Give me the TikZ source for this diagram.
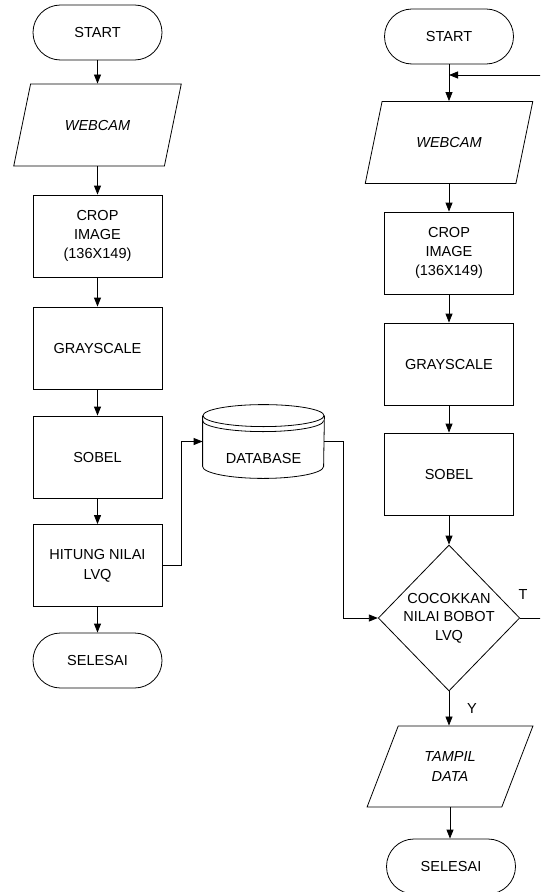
\documentclass[tikz,border=0pt]{standalone}
\usepackage{fontspec}
\setmainfont{Liberation Sans}
\usetikzlibrary{shapes.geometric}
\usetikzlibrary{arrows.meta}

\begin{document}
\begin{tikzpicture}[x=0.75pt,y=-0.75pt,
		font=\fontsize{10.9}{14}\selectfont,
		line width=0.6pt,
		term/.style={draw, rectangle, rounded corners=20.6pt, minimum width=96.75pt, minimum height=41.25pt},
		proc/.style={draw, rectangle, minimum width=96.75pt, minimum height=61.5pt, align=center},
		io/.style={draw, trapezium, trapezium left angle=64, trapezium right angle=116, trapezium stretches, minimum width=126pt, minimum height=61.5pt, align=center, font=\fontsize{10.9}{15}\selectfont\itshape},
		decide/.style={draw, diamond, aspect=1, minimum width=105pt, minimum height=109.5pt, align=center, inner sep=0pt},
		arr/.style={-{Triangle[length=6.75pt,width=5.25pt]}}]
		\useasboundingbox (0,0) rectangle (540,892);
		\clip (0,0) rectangle (540,892);
		
		% Left flow - training
		\node[term] (startL) at (97.5,32.5) {START};
		\node[io] (webL) at (97.5,125) {WEBCAM};
		\node[proc] (cropL) at (97.5,236) {CROP\\IMAGE\\(136X149)};
		\node[proc] (grayL) at (97.5,348) {GRAYSCALE};
		\node[proc] (sobelL) at (97.5,457) {SOBEL};
		\node[proc, font=\fontsize{10.9}{15}\selectfont] (hitung) at (97.5,565.5) {HITUNG NILAI\\LVQ};
		\node[term] (endL) at (97.5,660.5) {SELESAI};
		\foreach \a/\b in {startL/webL,webL/cropL,cropL/grayL,grayL/sobelL,sobelL/hitung,hitung/endL} {
			\draw[arr] (\a |- \a.south) -- (\a |- \b.north);
		}
		
		% Database
		\node[minimum width=90.75pt, minimum height=54.75pt] (db) at (263.5,441.5) {};
		\draw ([yshift=-8.25pt]db.north) ellipse [x radius=45.375pt, y radius=8.25pt];
		\draw ([yshift=-12pt]db.north west) arc [start angle=180, end angle=360, x radius=45.375pt, y radius=8.25pt];
		\draw ([yshift=-8.25pt]db.north west) -- ([yshift=9pt]db.south west) arc [start angle=180, end angle=360, x radius=45.375pt, y radius=9pt] -- ([yshift=-8.25pt]db.north east);
		\node (dbtext) at ([yshift=-12.4pt]db.center) {DATABASE};
		\draw[arr] (hitung.east) -- ++(19,0) |- (db.west);
		
		% Right flow - testing
		\node[term] (startR) at (449,36.5) {START};
		\node[io] (webR) at (449,142.5) {WEBCAM};
		\node[proc] (cropR) at (449,253) {CROP\\IMAGE\\(136X149)};
		\node[proc] (grayR) at (449,364) {GRAYSCALE};
		\node[proc] (sobelR) at (449,474) {SOBEL};
		\node[decide] (dia) at (449,618) {COCOKKAN\\NILAI BOBOT\\LVQ};
		\node[io, minimum width=124.5pt, minimum height=60.75pt, trapezium left angle=65, trapezium right angle=115] (tampil) at (450,766.5) {TAMPIL\\DATA};
		\node[term] (endR) at (451,866.5) {SELESAI};
		\foreach \a/\b in {startR/webR,webR/cropR,cropR/grayR,grayR/sobelR,sobelR/dia,tampil/endR} {
			\draw[arr] (\a |- \a.south) -- (\a |- \b.north);
		}
		\draw[arr] (dia.south) -- node[xshift=17.25pt] (lblY) {Y} (dia |- tampil.north);
		\draw[arr] (db.east) -- ++(19,0) |- (dia.west);
		
		% Loop back when no match
		\coordinate (fb) at (543,75);
		\draw[arr] (dia.east) node[anchor=south, xshift=2.25pt, yshift=13.3pt, inner sep=0pt] (lblT) {T} -| (fb) -- (fb -| startR);
	\end{tikzpicture}
\end{document}
